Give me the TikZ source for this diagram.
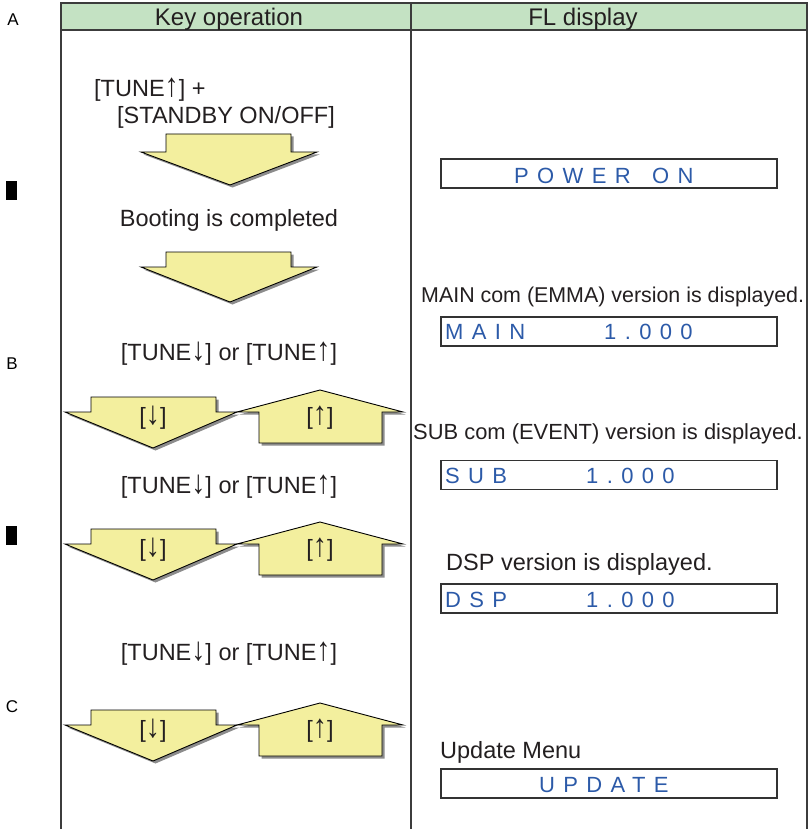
\documentclass[tikz,border=0pt]{standalone}
\usepackage{graphicx}
\usepackage{fontspec}
\setmainfont{Liberation Sans}
\newfontfamily\dspfont[LetterSpace=38]{Liberation Sans}
\definecolor{hdrgreen}{HTML}{C4E2C3}
\definecolor{tablec}{HTML}{3C3C3C}
\definecolor{arrfill}{HTML}{F3EF9E}
\definecolor{shadowc}{HTML}{8C8C8C}
\definecolor{dspblue}{HTML}{2C5AA8}
\definecolor{textc}{HTML}{231F20}
\definecolor{boxc}{HTML}{333333}
\newcommand\ua{\scalebox{1.2}[1.4]{↑}}
\newcommand\da{\scalebox{1.2}[1.4]{↓}}
\tikzset{
  lbl/.style={inner sep=0pt, anchor=base, text=textc, font=\fontsize{23.5}{28}\selectfont},
  lblw/.style={lbl, anchor=base west},
  rlbl/.style={lblw, font=\fontsize{21.4}{26}\selectfont},
  hdr/.style={inner sep=0pt, anchor=base, text=textc, font=\fontsize{24}{28}\selectfont},
  side/.style={inner sep=0pt, anchor=base, text=black, font=\fontsize{17}{20}\selectfont},
  dsp/.style={inner sep=0pt, anchor=base west, text=dspblue, font=\dspfont\fontsize{22}{26}\selectfont},
  dbox/.style={draw=boxc, line width=1.1pt, inner sep=0pt, minimum width=336pt, minimum height=29pt},
  arrbody/.style={fill=arrfill, draw=black, line width=0.9pt, line join=miter},
  arrshadow/.style={fill=shadowc},
  tline/.style={draw=tablec, line width=1.3pt},
}
% generic block arrow: #1 bodyL #2 bodyR #3 body end y #4 wing y #5 wingL #6 wingR #7 tip x #8 tip y
\newcommand\YArr[8]{%
  \fill[arrshadow, xshift=2.5pt, yshift=-2.5pt] (#1,#3) -- (#2,#3) -- (#2,#4) -- (#6,#4) -- (#7,#8) -- (#5,#4) -- (#1,#4) -- cycle;
  \filldraw[arrbody] (#1,#3) -- (#2,#3) -- (#2,#4) -- (#6,#4) -- (#7,#8) -- (#5,#4) -- (#1,#4) -- cycle;
}
\newcommand\ArrPair[2]{%
  \YArr{91}{216}{#1}{#1+15}{65}{237}{153}{#1+51}
  \YArr{259}{382}{#1+46}{#1+15}{237}{403}{320}{#1-7}
  \node[lbl] (#2d) at (153,#1+27) {[\da]};
  \node[lbl] (#2u) at (320,#1+27) {[\ua]};
}
\begin{document}
\begin{tikzpicture}[x=1pt, y=-1pt]
\useasboundingbox (0,0) rectangle (809,829);
% table
\fill[hdrgreen] (61,3) rectangle (807,30);
\draw[tline] (61,829) -- (61,3) -- (807,3) -- (807,829);
\draw[tline] (61,30) -- (807,30);
\draw[tline] (411,3) -- (411,829);
\node[hdr] (hkey) at (229,26) {Key operation};
\node[hdr] (hfl) at (583,26) {FL display};
% side marks
\node[side] (sa) at (13,26) {A};
\node[side] (sb) at (12,369) {B};
\node[side] (sc) at (12,712) {C};
\fill[black] (6,181) rectangle (17,200);
\fill[black] (6,526) rectangle (17,545);
% key operation column
\node[lblw] (k1) at (94,97) {[TUNE\ua] +};
\node[lblw] (k2) at (117,124) {[STANDBY ON/OFF]};
\YArr{166}{291}{134}{152}{141}{317}{230}{185}
\node[lbl] (boot) at (229,226) {Booting is completed};
\YArr{166}{291}{252}{267}{141}{317}{230}{302}
\node[lbl] (t1) at (229,360) {[TUNE\da] or [TUNE\ua]};
\ArrPair{397}{p1}
\node[lbl] (t2) at (229,493) {[TUNE\da] or [TUNE\ua]};
\ArrPair{529}{p2}
\node[lbl] (t3) at (229,660) {[TUNE\da] or [TUNE\ua]};
\ArrPair{710}{p3}
% FL display column
\node[dbox] (bpwr) at (609,173.5) {};
\node[dsp] (dpwr) at (514,183) {POWER\hspace{7pt} ON};
\node[rlbl] (lmain) at (421,302) {MAIN com (EMMA) version is displayed.};
\node[dbox] (bmain) at (609,331.5) {};
\node[dsp] (dmain) at (445,339) {\makebox[159pt][l]{MAIN}1.000};
\node[rlbl, font=\fontsize{21.9}{26}\selectfont] (lsub) at (413,439) {SUB com (EVENT) version is displayed.};
\node[dbox] (bsub) at (609,475) {};
\node[dsp] (dsub) at (445,483) {\makebox[141pt][l]{SUB}1.000};
\node[lblw] (ldsp) at (446,570) {DSP version is displayed.};
\node[dbox] (bdsp) at (609,598.5) {};
\node[dsp] (ddsp) at (445,607) {\makebox[141pt][l]{DSP}1.000};
\node[lblw] (lupd) at (440,758) {Update Menu};
\node[dbox] (bupd) at (609,783.5) {};
\node[dsp] (dupd) at (539,792) {UPDATE};
\end{tikzpicture}
\end{document}
